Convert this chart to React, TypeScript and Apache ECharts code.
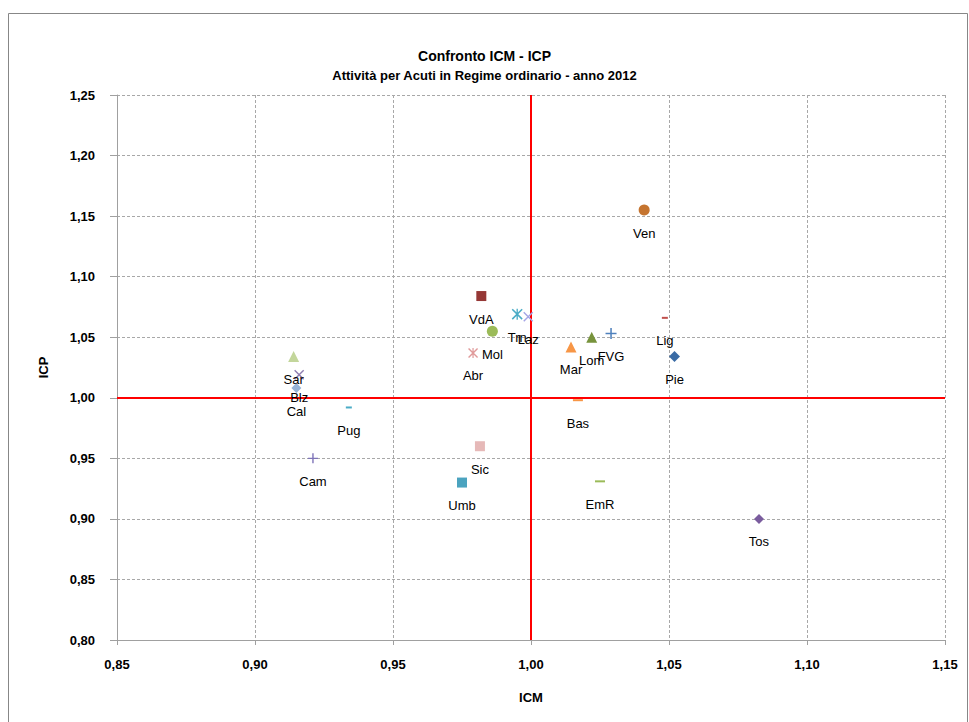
import React, { useEffect, useRef } from "react";
import * as echarts from "echarts";

const REGIONS = ["Ven", "VdA", "Trn", "Laz", "Mol", "Abr", "Sar", "Blz", "Cal", "Pug", "Cam", "Sic", "Umb", "Bas", "EmR", "Mar", "Lom", "FVG", "Lig", "Pie", "Tos"];
const ICM = [1.041, 0.982, 0.995, 0.999, 0.986, 0.979, 0.914, 0.916, 0.915, 0.934, 0.921, 0.9815, 0.975, 1.017, 1.025, 1.0145, 1.022, 1.029, 1.0485, 1.052, 1.0826];
const ICP = [1.155, 1.084, 1.069, 1.067, 1.055, 1.037, 1.034, 1.019, 1.008, 0.992, 0.950, 0.960, 0.930, 0.998, 0.931, 1.042, 1.050, 1.053, 1.066, 1.034, 0.900];
const X_TICKS = [0.85, 1.15, 0.05];
const Y_TICKS = [0.8, 1.25, 0.05];

const PLUS = "path://M4.3,0H5.7V10H4.3Z M0,4.3H10V5.7H0Z";
const CROSS = "path://M0,1L1,0L10,9L9,10Z M9,0L10,1L1,10L0,9Z";
const STAR = "path://M0,1L1,0L10,9L9,10Z M9,0L10,1L1,10L0,9Z M4.4,0H5.6V10H4.4Z";

const STYLES: Record<string, { symbol: string; size: number | number[]; color: string }> = {
  Ven: { symbol: "circle", size: 11, color: "#C5742F" },
  VdA: { symbol: "rect", size: 10, color: "#953735" },
  Trn: { symbol: STAR, size: 11, color: "#4BACC6" },
  Laz: { symbol: CROSS, size: 10, color: "#A5A5E6" },
  Mol: { symbol: "circle", size: 11, color: "#9BBB59" },
  Abr: { symbol: STAR, size: 10, color: "#E09A9A" },
  Sar: { symbol: "triangle", size: 11, color: "#C3D69B" },
  Blz: { symbol: CROSS, size: 10, color: "#8E7CB0" },
  Cal: { symbol: "diamond", size: 10, color: "#95B3D7" },
  Pug: { symbol: "rect", size: [6, 2], color: "#4BACC6" },
  Cam: { symbol: PLUS, size: 10, color: "#7E74B8" },
  Sic: { symbol: "rect", size: 10, color: "#E6B9B8" },
  Umb: { symbol: "rect", size: 10, color: "#4BA3BF" },
  Bas: { symbol: "rect", size: [10, 2], color: "#F79646" },
  EmR: { symbol: "rect", size: [10, 2], color: "#9BBB59" },
  Mar: { symbol: "triangle", size: 11, color: "#F79646" },
  Lom: { symbol: "triangle", size: 11, color: "#77933C" },
  FVG: { symbol: PLUS, size: 11, color: "#4F81BD" },
  Lig: { symbol: "rect", size: [6, 2], color: "#C0504D" },
  Pie: { symbol: "diamond", size: 11, color: "#3A6BA5" },
  Tos: { symbol: "diamond", size: 10, color: "#7A5C9E" },
};

const FONT = "Liberation Sans";
const fmt = (v: number) => v.toFixed(2).replace(".", ",");

export default function App() {
  const ref = useRef<HTMLDivElement>(null);
  useEffect(() => {
    if (!ref.current) return;
    const chart = echarts.init(ref.current, null, { renderer: "svg" });
    const series: any[] = [
      {
        type: "scatter",
        name: "ref",
        data: [],
        markLine: {
          silent: true,
          symbol: "none",
          animation: false,
          label: { show: false },
          lineStyle: { color: "#FF0000", width: 2, type: "solid" },
          data: [{ xAxis: 1 }, { yAxis: 1 }],
        },
        z: 1,
      },
    ];
    REGIONS.forEach((name, i) => {
      const st = STYLES[name];
      series.push({
        type: "scatter",
        name,
        data: [[ICM[i], ICP[i]]],
        symbol: st.symbol,
        symbolSize: st.size,
        itemStyle: { color: st.color, opacity: 1 },
        label: {
          show: true,
          position: "inside",
          offset: [0, 23],
          formatter: () => name,
          color: "#000",
          fontFamily: FONT,
          fontSize: 13,
        },
        z: 5,
      });
    });
    chart.setOption({
      animation: false,
      backgroundColor: "#fff",
      title: {
        text: "Confronto ICM - ICP",
        subtext: "Attività per Acuti in Regime ordinario - anno 2012",
        left: "center",
        top: 42,
        itemGap: 3,
        textStyle: { fontFamily: FONT, fontSize: 14, fontWeight: "bold", color: "#000", lineHeight: 17 },
        subtextStyle: { fontFamily: FONT, fontSize: 13, fontWeight: "bold", color: "#000", lineHeight: 17 },
      },
      graphic: [
        {
          type: "rect",
          shape: { x: 8.5, y: 13.5, width: 959, height: 730 },
          style: { fill: "none", stroke: "#878787", lineWidth: 1 },
          silent: true,
          z: -1,
        },
      ],
      grid: { left: 117, right: 24, top: 95, bottom: 82 },
      xAxis: {
        type: "value",
        min: X_TICKS[0],
        max: X_TICKS[1],
        interval: X_TICKS[2],
        name: "ICM",
        nameLocation: "middle",
        nameGap: 51,
        nameTextStyle: { fontFamily: FONT, fontSize: 13, fontWeight: "bold", color: "#000" },
        axisLine: { show: true, onZero: false, lineStyle: { color: "#A0A0A0", width: 1 } },
        axisTick: { show: true, length: 5, lineStyle: { color: "#A0A0A0" } },
        axisLabel: { formatter: fmt, margin: 18, fontFamily: FONT, fontSize: 13, fontWeight: "bold", color: "#000" },
        splitLine: { show: true, lineStyle: { color: "#A8A8A8", type: [3, 2], width: 1 } },
      },
      yAxis: {
        type: "value",
        min: Y_TICKS[0],
        max: Y_TICKS[1],
        interval: Y_TICKS[2],
        name: "ICP",
        nameLocation: "middle",
        nameGap: 67,
        nameRotate: 90,
        nameTextStyle: { fontFamily: FONT, fontSize: 13, fontWeight: "bold", color: "#000" },
        axisLine: { show: true, onZero: false, lineStyle: { color: "#A0A0A0", width: 1 } },
        axisTick: { show: true, length: 7, lineStyle: { color: "#A0A0A0" } },
        axisLabel: { formatter: fmt, margin: 22, fontFamily: FONT, fontSize: 13, fontWeight: "bold", color: "#000" },
        splitLine: { show: true, lineStyle: { color: "#A8A8A8", type: [3, 2], width: 1 } },
      },
      series,
    });
    return () => chart.dispose();
  }, []);
  return <div ref={ref} style={{ position: "fixed", left: 0, top: 0, width: 969, height: 722 }} />;
}
